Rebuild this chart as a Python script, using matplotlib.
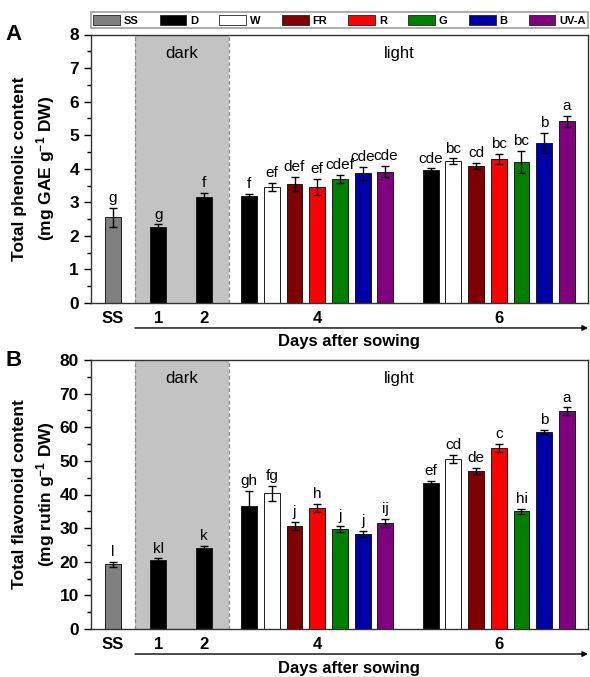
import numpy as np
import matplotlib
matplotlib.use('Agg')
import matplotlib.pyplot as plt
from matplotlib.patches import Patch
from matplotlib.ticker import MultipleLocator

plt.rcParams['font.family'] = ['Liberation Sans', 'DejaVu Sans']
plt.rcParams['mathtext.fontset'] = 'custom'
plt.rcParams['mathtext.rm'] = 'Liberation Sans'
plt.rcParams['mathtext.bf'] = 'Liberation Sans:bold'
plt.rcParams['mathtext.default'] = 'bf'

# treatments and colours
treatments = ['SS', 'D', 'W', 'FR', 'R', 'G', 'B', 'UV-A']
colors = ['#808080', '#000000', '#ffffff', '#800000', '#ff0000', '#008000', '#0000a8', '#800080']
day_labels = ['SS', '1', '2', '4', '6']

# Panel A: total phenolic content (mg GAE g-1 DW)
phen_ss, phen_ss_err, phen_ss_let = 2.55, 0.28, 'g'
phen_dark = [2.27, 3.15]
phen_dark_err = [0.07, 0.12]
phen_dark_let = ['g', 'f']
phen_d4 = [3.18, 3.45, 3.55, 3.45, 3.70, 3.86, 3.91]
phen_d4_err = [0.07, 0.12, 0.21, 0.24, 0.12, 0.20, 0.17]
phen_d4_let = ['f', 'ef', 'def', 'ef', 'cdef', 'cde', 'cde']
phen_d6 = [3.96, 4.23, 4.08, 4.29, 4.21, 4.77, 5.41]
phen_d6_err = [0.05, 0.08, 0.10, 0.16, 0.33, 0.30, 0.17]
phen_d6_let = ['cde', 'bc', 'cd', 'bc', 'bc', 'b', 'a']

# Panel B: total flavonoid content (mg rutin g-1 DW)
flav_ss, flav_ss_err, flav_ss_let = 19.2, 0.8, 'l'
flav_dark = [20.5, 24.0]
flav_dark_err = [0.5, 0.8]
flav_dark_let = ['kl', 'k']
flav_d4 = [36.7, 40.3, 30.6, 35.9, 29.7, 28.3, 31.5]
flav_d4_err = [4.3, 2.3, 1.2, 1.2, 1.0, 0.9, 1.2]
flav_d4_let = ['gh', 'fg', 'j', 'h', 'j', 'j', 'ij']
flav_d6 = [43.3, 50.6, 47.0, 53.9, 35.0, 58.6, 64.8]
flav_d6_err = [0.8, 1.2, 0.8, 1.2, 0.7, 0.5, 1.1]
flav_d6_let = ['ef', 'cd', 'de', 'c', 'hi', 'b', 'a']

# x layout
pos_ss = [0]
pos_dark = [2, 4]
pos_d4 = list(6 + np.arange(7))
pos_d6 = list(14 + np.arange(7))
bw = 0.7


def draw_panel(ax, ss, ss_err, ss_let, dark, dark_err, dark_let,
               d4, d4_err, d4_let, d6, d6_err, d6_let,
               ymax, major, minor, ylab1, ylab2, letter):
    ax.set_xlim(-0.98, 20.93)
    ax.set_ylim(0, ymax)
    ax.axvspan(0.97, 5.1, color='#c3c3c3', zorder=0, lw=0)
    for xv in (0.97, 5.1):
        ax.axvline(xv, color='#888888', ls=(0, (3, 2)), lw=0.9, zorder=1)

    xs = pos_ss + pos_dark + pos_d4 + pos_d6
    vals = [ss] + dark + d4 + d6
    errs = [ss_err] + dark_err + d4_err + d6_err
    lets = [ss_let] + dark_let + d4_let + d6_let
    cols = [colors[0]] + [colors[1]] * 2 + colors[1:] + colors[1:]
    ax.bar(xs, vals, width=bw, color=cols, edgecolor='#1a1a1a', lw=0.7, zorder=2)
    ax.errorbar(xs, vals, yerr=errs, fmt='none', ecolor='black', elinewidth=1.0,
                capsize=3, capthick=1.0, zorder=3)
    for x, v, e, t in zip(xs, vals, errs, lets):
        ax.annotate(t, (x, v + e), xytext=(0, 2), textcoords='offset points',
                    ha='center', va='bottom', fontsize=11)

    ax.text(3.04, 0.93, 'dark', transform=ax.get_xaxis_transform(),
            ha='center', va='center', fontsize=12)
    ax.text(12.6, 0.93, 'light', transform=ax.get_xaxis_transform(),
            ha='center', va='center', fontsize=12)

    ax.set_xticks([0, 2, 4, 9, 17])
    ax.set_xticklabels(day_labels, fontweight='bold', fontsize=12)
    ax.tick_params(axis='x', length=0, pad=6)
    ax.yaxis.set_major_locator(MultipleLocator(major))
    ax.yaxis.set_minor_locator(MultipleLocator(minor))
    ax.tick_params(axis='y', which='major', direction='out', length=5, width=1,
                   labelsize=12.5)
    ax.tick_params(axis='y', which='minor', direction='out', length=3, width=1)
    for lab in ax.get_yticklabels():
        lab.set_fontweight('bold')
    for sp in ax.spines.values():
        sp.set_color('#333333')
        sp.set_linewidth(1.0)

    # two-line y label, each line placed on its own
    ax.text(-0.143, 0.5, ylab1, transform=ax.transAxes, rotation=90,
            ha='center', va='center', fontsize=12.5, fontweight='bold')
    ax.text(-0.09, 0.5, ylab2, transform=ax.transAxes, rotation=90,
            ha='center', va='center', fontsize=12.5, fontweight='bold')

    ax.annotate('', xy=(20.93, -0.093), xytext=(0.97, -0.093),
                xycoords=ax.get_xaxis_transform(),
                textcoords=ax.get_xaxis_transform(),
                arrowprops=dict(arrowstyle='-|>', lw=1.0, color='black',
                                mutation_scale=8, shrinkA=0, shrinkB=0),
                annotation_clip=False)
    ax.text(10.4, -0.145, 'Days after sowing', transform=ax.get_xaxis_transform(),
            ha='center', va='center', fontsize=12, fontweight='bold')
    ax.text(-0.155, 1.0, letter, transform=ax.transAxes, ha='center', va='center',
            fontsize=16, fontweight='bold')


fig = plt.figure(figsize=(5.9, 6.77), dpi=100)
W, H = 590, 677
axA = fig.add_axes([90.7 / W, 1 - 303 / H, 497.3 / W, 268.5 / H])
axB = fig.add_axes([90.7 / W, 1 - 629 / H, 497.3 / W, 269 / H])

draw_panel(axA, phen_ss, phen_ss_err, phen_ss_let, phen_dark, phen_dark_err, phen_dark_let,
           phen_d4, phen_d4_err, phen_d4_let, phen_d6, phen_d6_err, phen_d6_let,
           8, 1, 0.5, 'Total phenolic content', '(mg GAE g$^{-1}$ DW)', 'A')
draw_panel(axB, flav_ss, flav_ss_err, flav_ss_let, flav_dark, flav_dark_err, flav_dark_let,
           flav_d4, flav_d4_err, flav_d4_let, flav_d6, flav_d6_err, flav_d6_let,
           80, 10, 5, 'Total flavonoid content', '(mg rutin g$^{-1}$ DW)', 'B')

handles = [Patch(facecolor=c, edgecolor='#222222', lw=0.6) for c in colors]
leg = fig.legend(handles, treatments, ncol=8, loc='lower left',
                 bbox_to_anchor=(90.7 / W, 1 - 28 / H, 497.3 / W, 18 / H),
                 mode='expand', fancybox=False, edgecolor='#888888',
                 prop={'weight': 'bold', 'size': 8}, handlelength=2.4,
                 handleheight=1.1, handletextpad=0.35, borderpad=0.2,
                 borderaxespad=0, columnspacing=0.5)
leg.get_frame().set_linewidth(1.2)

fig.savefig('out.png', dpi=100)
